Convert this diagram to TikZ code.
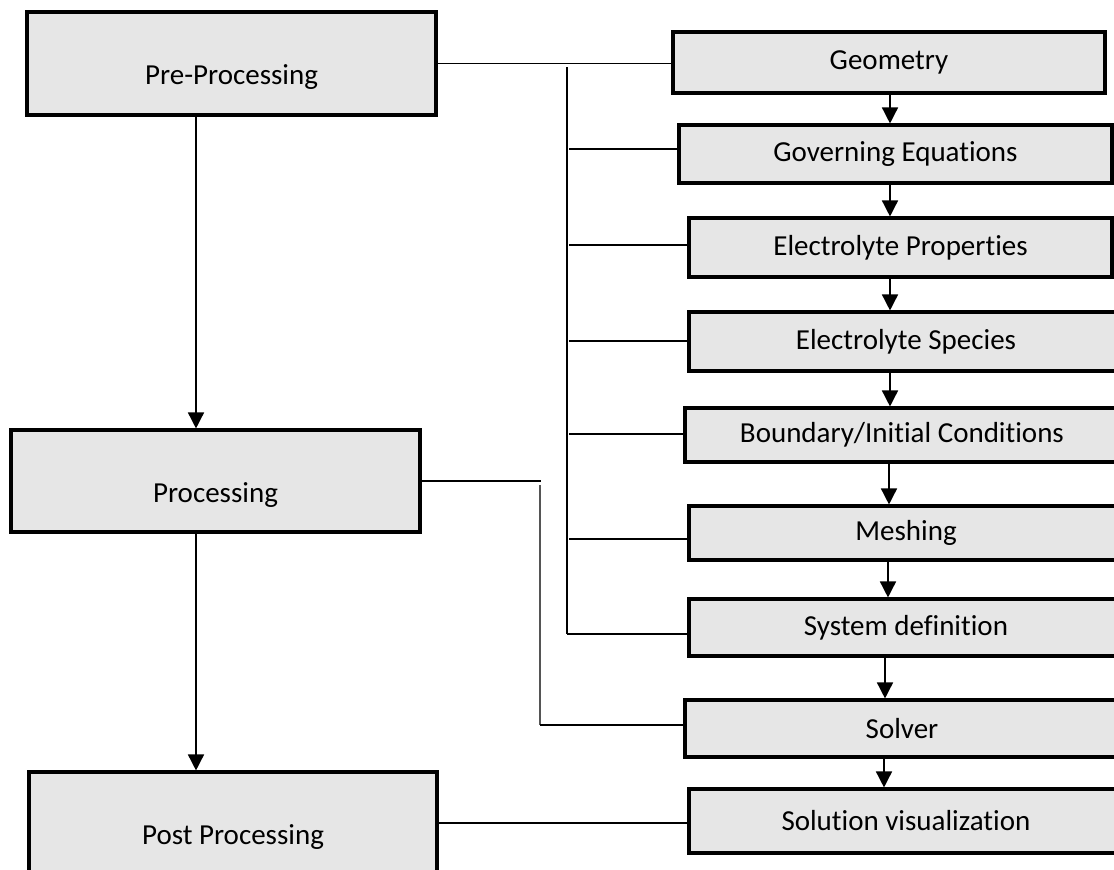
\documentclass[tikz,border=0pt]{standalone}
\usepackage{fontspec}
\setmainfont{Carlito}[Ligatures={NoCommon}]
\usetikzlibrary{arrows.meta}
\definecolor{boxfill}{RGB}{230,230,230}
\definecolor{wire}{RGB}{85,85,85}
\begin{document}
\begin{tikzpicture}[x=1pt,y=-1pt,
  font=\fontsize{29}{35}\selectfont,
  stage/.style={draw=black, line width=3.1pt, fill=boxfill, inner sep=0pt},
  stepbox/.style={stage},
  link/.style={line width=1.9pt},
  thinlink/.style={line width=1.3pt},
  flow/.style={line width=1.5pt, -{Triangle[width=16pt,length=16pt]}},
  stagelabel/.style={yshift=-14pt}]
\useasboundingbox (0,0) rectangle (1114,870);
\clip (0,0) rectangle (1114,870);

% main stages
\node[stage, minimum width=409pt, minimum height=103pt,
      label={[name=preT, stagelabel]center:Pre-Processing}] (pre) at (231.5,63.5) {};
\node[stage, minimum width=409pt, minimum height=102pt,
      label={[name=procT, stagelabel]center:Processing}] (proc) at (215.5,481) {};
\node[stage, minimum width=408pt, minimum height=102pt,
      label={[name=postT, stagelabel]center:Post Processing}] (post) at (233,823) {};

% detailed steps
\node[stepbox, minimum width=432pt, minimum height=61pt] (geom)    at (889,62.5)  {Geometry};
\node[stepbox, minimum width=433pt, minimum height=58pt] (gov)     at (895.5,154) {Governing Equations};
\node[stepbox, minimum width=423pt, minimum height=59pt] (props)   at (900.5,247.5) {Electrolyte Properties};
\node[stepbox, minimum width=434pt, minimum height=59pt] (species) at (906,341.5) {Electrolyte Species};
\node[stepbox, minimum width=434pt, minimum height=54pt] (bound)   at (902,435)   {Boundary/Initial Conditions};
\node[stepbox, minimum width=434pt, minimum height=54pt] (mesh)    at (906,533)   {Meshing};
\node[stepbox, minimum width=434pt, minimum height=57pt] (sysdef)  at (906,627.5) {System definition};
\node[stepbox, minimum width=434pt, minimum height=57pt] (solver)  at (902,728.5) {Solver};
\node[stepbox, minimum width=434pt, minimum height=64pt] (solvis)  at (906,821)   {Solution visualization};

% stage sequence
\coordinate (colL) at (196,0);
\draw[flow] (pre.south -| colL) -- (proc.north -| colL);
\draw[flow] (proc.south -| colL) -- (post.north -| colL);

% step sequence
\foreach \a/\b/\x in {geom/gov/890, gov/props/890, props/species/890, species/bound/890,
                      bound/mesh/889, mesh/sysdef/888, sysdef/solver/885, solver/solvis/884} {
  \coordinate (col) at (\x,0);
  \draw[flow] (\a.south -| col) -- (\b.north -| col);
}

% pre-processing bracket
\draw[link] (pre.east) -- (pre.east -| geom.west);
\coordinate (busTop) at (567,67);
\coordinate (busEnd) at (567,634);
\draw[thinlink] (busTop) -- (busEnd);
\draw[link] (busEnd) -- (busEnd -| sysdef.west);
\coordinate (j1) at (569,149);
\coordinate (j2) at (569,245);
\coordinate (j3) at (569,341);
\coordinate (j4) at (569,434);
\coordinate (j5) at (569,539);
\draw[link] (j1) -- (j1 -| gov.west);
\draw[link] (j2) -- (j2 -| props.west);
\draw[link] (j3) -- (j3 -| species.west);
\draw[link] (j4) -- (j4 -| bound.west);
\draw[link] (j5) -- (j5 -| mesh.west);

% processing bracket
\coordinate (pA) at (541,481);
\coordinate (pB) at (540,485);
\coordinate (pC) at (540,725);
\draw[link] (proc.east) -- (pA);
\draw[thinlink, draw=wire] (pB) -- (pC);
\draw[link] (pC) -- (pC -| solver.west);

% post-processing link
\draw[link] (post.east) -- (post.east -| solvis.west);
\end{tikzpicture}
\end{document}
